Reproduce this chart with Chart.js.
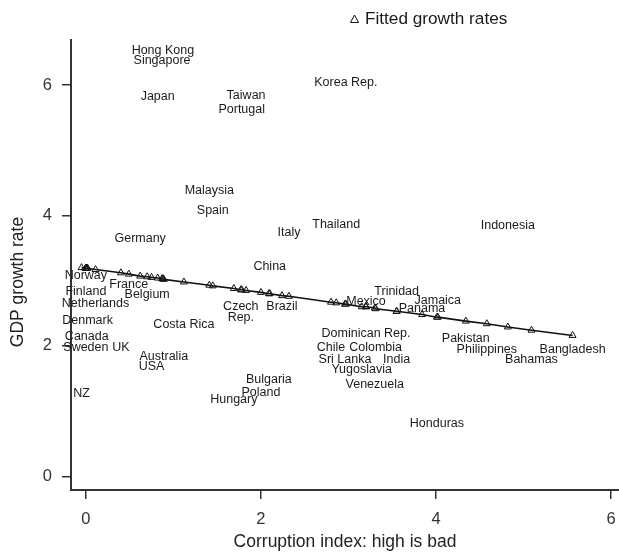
<!DOCTYPE html>
<html>
<head>
<meta charset="utf-8">
<script src="https://cdn.jsdelivr.net/npm/chart.js@4.4.0/dist/chart.umd.min.js"></script>
<style>
html,body{margin:0;padding:0;background:#fff;}
</style>
</head>
<body>
<canvas id="c" width="619" height="553"></canvas>
<script>
// country labels, corruption index (x), GDP growth (y), fitted growth
const countries = ["Hong Kong","Singapore","Japan","Taiwan","Portugal","Korea Rep.","Malaysia","Spain",
  "Germany","Italy","Thailand","Indonesia","China","Norway","Finland","France","Belgium","Netherlands",
  "Denmark","Costa Rica","Czech\nRep.","Brazil","Canada","Sweden","UK","Australia","USA","NZ",
  "Bulgaria","Poland","Hungary","Trinidad","Mexico","Jamaica","Panama","Dominican Rep.","Chile",
  "Colombia","Sri Lanka","India","Yugoslavia","Venezuela","Honduras","Pakistan","Philippines",
  "Bahamas","Bangladesh"];
const corruption = [0.88,0.87,0.82,1.83,1.78,2.97,1.41,1.45,
  0.62,2.32,2.86,4.82,2.10,0.00,0.00,0.49,0.70,0.11,
  0.02,1.12,1.77,2.24,0.01,0.00,0.40,0.89,0.75,-0.05,
  2.09,2.00,1.69,3.55,3.20,4.02,3.84,3.20,2.80,
  3.31,2.96,3.55,3.15,3.30,4.01,4.34,4.58,
  5.09,5.56];
const growth = [6.53,6.37,5.82,5.84,5.63,6.03,4.38,4.08,
  3.64,3.73,3.86,3.85,3.21,3.08,2.83,2.94,2.78,2.65,
  2.39,2.33,2.52,2.60,2.14,1.97,1.97,1.84,1.69,1.27,
  1.48,1.29,1.17,2.83,2.68,2.69,2.57,2.19,1.98,
  1.98,1.79,1.79,1.64,1.41,0.81,2.11,1.94,
  1.79,1.94];
const fitted = [3.03,3.03,3.04,2.85,2.86,2.64,2.93,2.92,
  3.07,2.76,2.66,2.29,2.80,3.19,3.19,3.10,3.06,3.17,
  3.19,2.98,2.86,2.77,3.19,3.19,3.12,3.02,3.05,3.20,
  2.80,2.82,2.88,2.53,2.60,2.44,2.48,2.60,2.67,
  2.57,2.64,2.53,2.60,2.58,2.44,2.38,2.34,
  2.24,2.16];
const xTicks = [0,2,4,6];
const yTicks = [0,2,4,6];
const fittedLabel = "Fitted growth rates";
const yTitle = "GDP growth rate";

const FONT = "'Liberation Sans', Arial, Helvetica, sans-serif";
Chart.defaults.font.family = FONT;

const labelPts = corruption.map((x,i)=>({x:x, y:growth[i]}));
const fitPts = corruption.map((x,i)=>({x:x, y:fitted[i]})).sort((a,b)=>a.x-b.x);

// draw country names centred on their points
const countryLabels = {
  id: 'countryLabels',
  afterDatasetsDraw(chart){
    const ctx = chart.ctx;
    const meta = chart.getDatasetMeta(0);
    ctx.save();
    ctx.font = '12.5px ' + FONT;
    ctx.fillStyle = '#1a1a1a';
    ctx.textAlign = 'center';
    ctx.textBaseline = 'middle';
    meta.data.forEach((pt,i)=>{
      const lines = countries[i].split('\n');
      lines.forEach((ln,j)=>{
        ctx.fillText(ln, pt.x, pt.y + (j-(lines.length-1)/2)*11);
      });
    });
    ctx.restore();
  }
};

// legend above the plot and the y title (sits a bit below the axis middle)
const extras = {
  id: 'extras',
  afterDraw(chart){
    const ctx = chart.ctx;
    ctx.save();
    ctx.strokeStyle = '#111';
    ctx.lineWidth = 1;
    ctx.beginPath();
    ctx.moveTo(354.5, 15); ctx.lineTo(358.5, 22.5); ctx.lineTo(350.5, 22.5); ctx.closePath();
    ctx.stroke();
    ctx.font = '17.2px ' + FONT;
    ctx.fillStyle = '#1a1a1a';
    ctx.textBaseline = 'middle';
    ctx.fillText(fittedLabel, 365, 19);

    ctx.translate(18, 282);
    ctx.rotate(-Math.PI/2);
    ctx.textAlign = 'center';
    ctx.font = '17.5px ' + FONT;
    ctx.fillStyle = '#222';
    ctx.fillText(yTitle, 0, 0);
    ctx.restore();
  }
};

const axisCommon = {
  type: 'linear',
  grid: {display:true, drawOnChartArea:false, drawTicks:true, tickLength:9, color:'#333', lineWidth:1.5},
  border: {display:true, color:'#333', width:2}
};

new Chart(document.getElementById('c'), {
  type: 'scatter',
  data: {
    datasets: [
      {label:'Countries', data: labelPts, pointRadius:0, pointHoverRadius:0, showLine:false},
      {label: fittedLabel, data: fitPts, showLine:true, borderColor:'#111', borderWidth:1.6,
       pointStyle:'triangle', pointRadius:4, pointBackgroundColor:'rgba(255,255,255,0)',
       pointBorderColor:'#111', pointBorderWidth:1, tension:0}
    ]
  },
  options: {
    responsive:false,
    animation:false,
    layout:{autoPadding:false, padding:{top:40, right:0, left:0, bottom:0}},
    plugins:{legend:{display:false}, tooltip:{enabled:false}},
    scales:{
      x: Object.assign({}, axisCommon, {
        min:-0.17, max:6.09,
        afterBuildTicks: s => { s.ticks = xTicks.map(v=>({value:v})); },
        afterFit: s => { s.height = 63; s.paddingRight = 0; s.paddingLeft = 0; },
        ticks:{font:{size:16.5}, color:'#333', padding:11},
        title:{display:true, text:'Corruption index: high is bad', font:{size:17.5}, color:'#222', padding:{top:2, bottom:0}}
      }),
      y: Object.assign({}, axisCommon, {
        min:-0.21, max:6.69,
        afterBuildTicks: s => { s.ticks = yTicks.map(v=>({value:v})); },
        afterFit: s => { s.width = 71; s.paddingTop = 0; s.paddingBottom = 0; },
        ticks:{font:{size:16.5}, color:'#333', padding:10},
        title:{display:false}
      })
    }
  },
  plugins:[countryLabels, extras]
});
</script>
</body>
</html>
